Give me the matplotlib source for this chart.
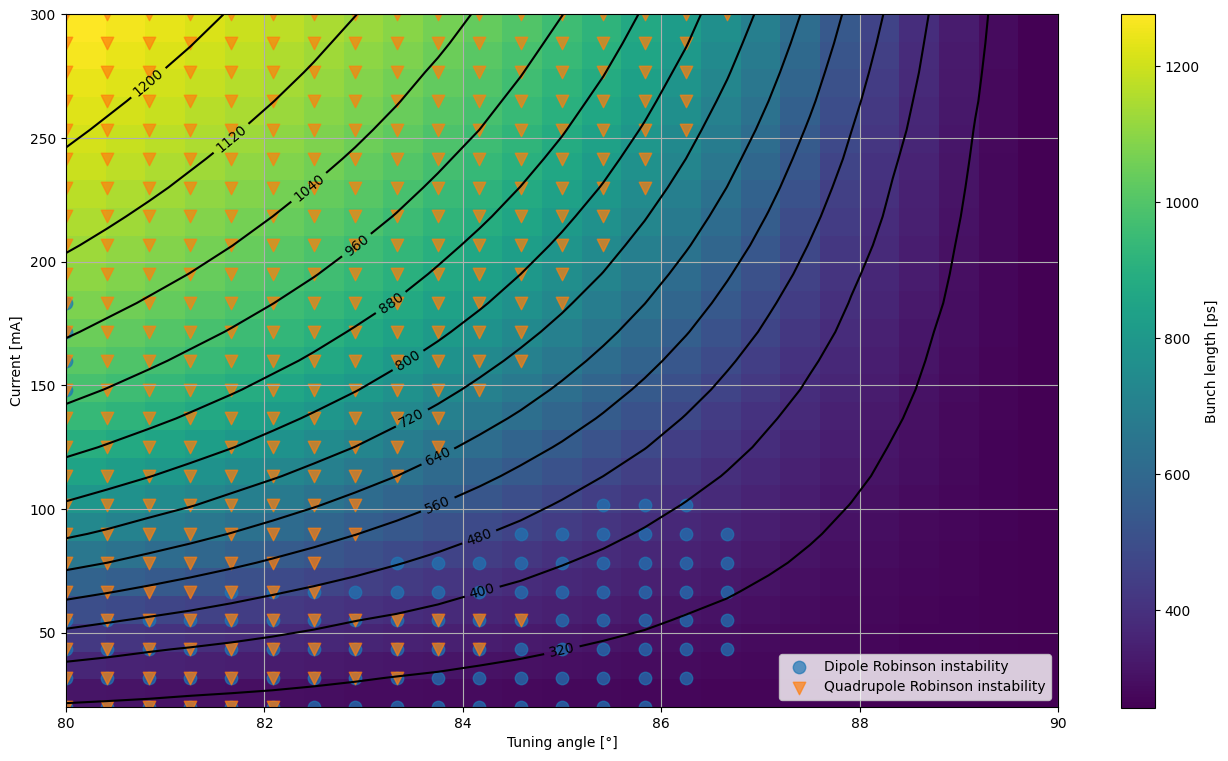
import numpy as np
import matplotlib
matplotlib.use("Agg")
import matplotlib.pyplot as plt

# scan grid
angles = np.linspace(80, 90, 25)      # tuning angle [deg]
currents = np.linspace(20, 300, 25)   # beam current [mA]

# bunch length [ps], one row per current (bottom -> top), one column per angle
bunch_length = [
    [313, 310, 307, 303, 300, 298, 295, 292, 290, 287, 285, 282, 280, 278, 276, 274, 271, 269, 268, 266, 264, 262, 261, 259, 257],
    [366, 359, 353, 347, 342, 336, 330, 324, 318, 313, 307, 302, 298, 294, 289, 285, 282, 278, 275, 271, 268, 265, 263, 260, 257],
    [426, 416, 405, 396, 387, 378, 370, 361, 353, 345, 337, 329, 321, 313, 306, 299, 293, 288, 282, 278, 273, 268, 265, 261, 257],
    [502, 486, 471, 457, 442, 428, 414, 401, 390, 379, 368, 357, 347, 337, 327, 316, 307, 298, 291, 284, 278, 272, 267, 262, 257],
    [583, 564, 545, 525, 506, 487, 469, 451, 434, 417, 401, 387, 374, 361, 348, 336, 324, 311, 300, 292, 283, 276, 269, 263, 257],
    [660, 640, 618, 597, 574, 551, 528, 506, 484, 463, 442, 422, 403, 386, 371, 355, 341, 327, 312, 299, 289, 280, 271, 264, 257],
    [731, 710, 686, 662, 638, 613, 588, 562, 536, 510, 485, 461, 437, 415, 394, 376, 358, 341, 325, 308, 295, 283, 274, 265, 257],
    [793, 771, 747, 724, 698, 672, 645, 617, 589, 560, 530, 502, 473, 447, 421, 397, 377, 357, 338, 319, 301, 288, 276, 266, 257],
    [848, 825, 802, 778, 752, 726, 699, 670, 640, 609, 577, 544, 512, 480, 450, 422, 396, 373, 351, 330, 309, 293, 279, 267, 257],
    [897, 875, 852, 827, 802, 775, 747, 719, 687, 655, 622, 587, 552, 516, 482, 448, 417, 389, 364, 341, 317, 297, 281, 268, 257],
    [940, 918, 896, 872, 846, 819, 791, 762, 732, 700, 664, 629, 592, 553, 514, 476, 440, 406, 378, 351, 326, 302, 284, 269, 257],
    [980, 958, 935, 911, 887, 860, 832, 803, 772, 740, 705, 668, 629, 589, 547, 505, 464, 426, 392, 363, 335, 308, 287, 270, 257],
    [1015, 994, 971, 947, 923, 897, 870, 840, 809, 777, 742, 705, 665, 623, 580, 534, 489, 446, 407, 374, 343, 314, 290, 271, 257],
    [1047, 1026, 1004, 980, 956, 930, 903, 874, 844, 811, 776, 739, 700, 656, 611, 564, 515, 468, 424, 385, 352, 320, 293, 273, 257],
    [1075, 1055, 1034, 1011, 986, 961, 934, 906, 876, 842, 808, 771, 731, 688, 641, 592, 541, 489, 441, 397, 361, 327, 296, 274, 257],
    [1101, 1081, 1060, 1039, 1015, 989, 963, 934, 905, 872, 838, 800, 760, 718, 670, 619, 566, 511, 459, 409, 370, 333, 299, 275, 257],
    [1127, 1106, 1085, 1063, 1041, 1016, 989, 961, 931, 899, 865, 828, 788, 745, 698, 646, 592, 534, 477, 424, 378, 339, 302, 277, 257],
    [1150, 1130, 1108, 1086, 1064, 1040, 1014, 986, 957, 925, 891, 855, 814, 771, 724, 671, 616, 556, 495, 438, 388, 346, 306, 278, 257],
    [1172, 1152, 1131, 1108, 1085, 1062, 1037, 1010, 980, 949, 915, 879, 839, 796, 749, 697, 639, 578, 513, 452, 397, 352, 310, 279, 257],
    [1193, 1173, 1151, 1129, 1106, 1082, 1058, 1032, 1002, 971, 938, 902, 863, 819, 772, 720, 661, 599, 532, 467, 407, 358, 314, 280, 257],
    [1211, 1192, 1171, 1149, 1126, 1102, 1077, 1052, 1024, 992, 960, 923, 885, 841, 794, 742, 684, 620, 551, 481, 418, 365, 318, 282, 257],
    [1228, 1209, 1190, 1168, 1145, 1121, 1096, 1070, 1043, 1013, 979, 944, 905, 863, 815, 763, 705, 640, 570, 496, 428, 371, 323, 283, 257],
    [1244, 1226, 1206, 1186, 1163, 1139, 1114, 1087, 1060, 1031, 999, 963, 924, 883, 835, 783, 725, 660, 588, 511, 439, 378, 327, 284, 257],
    [1261, 1241, 1222, 1202, 1180, 1156, 1131, 1104, 1077, 1049, 1017, 981, 943, 902, 855, 803, 744, 679, 606, 527, 450, 384, 331, 286, 257],
    [1276, 1257, 1237, 1217, 1196, 1173, 1147, 1121, 1093, 1064, 1034, 999, 961, 919, 873, 821, 763, 697, 623, 542, 462, 391, 335, 287, 257],
]

# quadrupole instability: columns 0..quad_last[row] are unstable
quad_last = [5, 8, 10, 11, 6, 6, 7, 7, 8, 9, 9, 10, 11, 11, 12, 12, 13, 13, 14, 14, 15, 15, 15, 15, 16]

# dipole instability: (row, first column, last column)
dipole_rows = [0, 1, 2, 3, 4, 5, 6, 7, 11, 12, 13, 14]
dipole_first = [0, 0, 0, 0, 4, 8, 11, 13, 0, 0, 0, 0]
dipole_last = [14, 15, 16, 16, 16, 16, 16, 15, 0, 0, 0, 0]

levels = [320, 400, 480, 560, 640, 720, 800, 880, 960, 1040, 1120, 1200]

bl = np.array(bunch_length, dtype=float)
A, I = np.meshgrid(angles, currents)

quad = np.zeros(bl.shape, dtype=bool)
for r, last in enumerate(quad_last):
    quad[r, :last + 1] = True

dip = np.zeros(bl.shape, dtype=bool)
for r, a, b in zip(dipole_rows, dipole_first, dipole_last):
    dip[r, a:b + 1] = True

fig = plt.figure(figsize=(12.28, 7.61), dpi=100)
ax = fig.add_axes([0.0537, 0.071, 0.8078, 0.910])
cax = fig.add_axes([0.9129, 0.070, 0.0273, 0.911])

im = ax.imshow(bl, origin="lower", aspect="auto", cmap="viridis",
               interpolation="nearest",
               extent=[angles[0], angles[-1], currents[0], currents[-1]])
cs = ax.contour(angles, currents, bl, levels=levels, colors="k")
ax.clabel(cs, inline=True, fontsize=10)

ax.scatter(A[dip], I[dip], marker="o", s=80, alpha=0.7,
           label="Dipole Robinson instability")
ax.scatter(A[quad], I[quad], marker="v", s=80, alpha=0.7,
           label="Quadrupole Robinson instability")

ax.set_xlim(80, 90)
ax.set_ylim(20, 300)
ax.set_xlabel("Tuning angle [°]")
ax.set_ylabel("Current [mA]")
ax.grid(True)
ax.legend(loc="lower right")

cb = fig.colorbar(im, cax=cax)
cb.set_label("Bunch length [ps]")

fig.savefig("out.png", dpi=100)
